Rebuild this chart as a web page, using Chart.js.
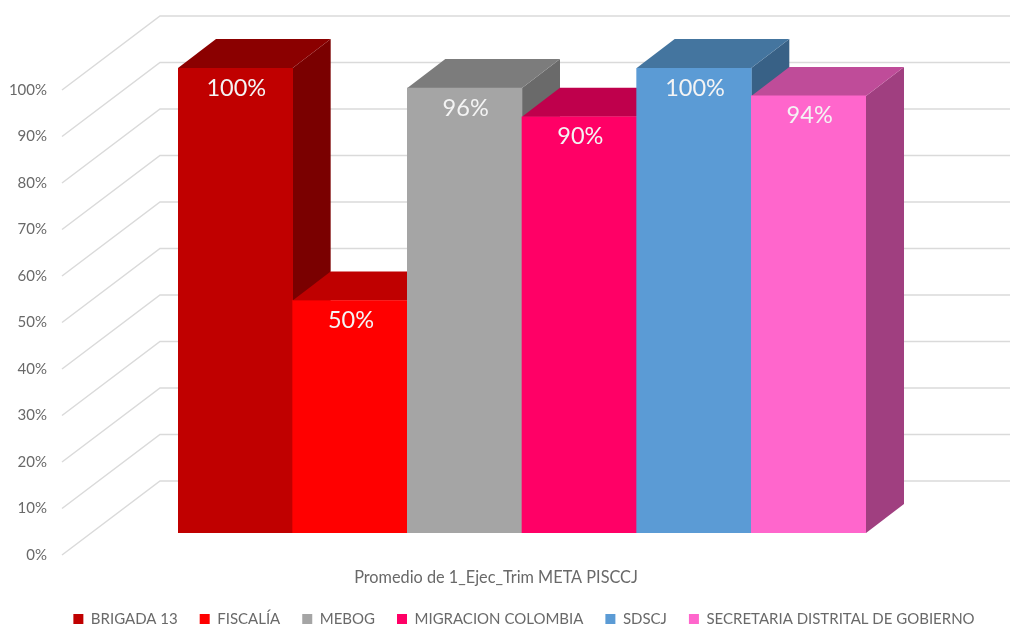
<!DOCTYPE html>
<html lang="es">
<head>
<meta charset="utf-8">
<title>Promedio de 1_Ejec_Trim META PISCCJ</title>
<script src="https://cdn.jsdelivr.net/npm/chart.js@4/dist/chart.umd.min.js"></script>
<style>
  html, body { margin: 0; background: #fff; }
  canvas { display: block; }
</style>
</head>
<body>
<canvas id="chart" width="1010" height="626"></canvas>
<script>
const categories = ["BRIGADA 13", "FISCALÍA", "MEBOG", "MIGRACION COLOMBIA", "SDSCJ", "SECRETARIA DISTRITAL DE GOBIERNO"];
const values = [100, 50, 95.7, 89.5, 100, 94];
const frontColors = ["#C00000", "#FF0000", "#A5A5A5", "#FF0066", "#5B9BD5", "#FF66CC"];
const topColors = ["#8B0000", "#BF0000", "#7C7C7C", "#BF004C", "#44759F", "#BF4C99"];
const sideColors = ["#7A0000", "#A00000", "#6A6A6A", "#A00040", "#386186", "#A03F80"];
const axisCaption = "Promedio de 1_Ejec_Trim META PISCCJ";

const FONT = "Lato, Carlito, sans-serif";
const TEXT_GREY = "#696969";

// Depth of the bars, and how far the side wall reaches either side of them
const BAR_DEPTH = { x: 38, y: 29 };
const WALL = { frontX: 62, frontDrop: 22, backX: 160, backRise: 52, rightX: 1010 };

function fillPoly(ctx, color, pts) {
  ctx.fillStyle = color;
  ctx.beginPath();
  pts.forEach((p, i) => (i ? ctx.lineTo(p[0], p[1]) : ctx.moveTo(p[0], p[1])));
  ctx.closePath();
  ctx.fill();
}

const threeD = {
  id: "threeD",
  // Tick labels get clipped to the axis box, and they sit left of it here
  afterLayout(chart) {
    chart.scales.y.left = 0;
  },
  // The library draws the front faces, so walls, sides and tops go underneath
  beforeDatasetsDraw(chart) {
    const { ctx, scales } = chart;
    ctx.save();
    ctx.strokeStyle = "#DADADA";
    ctx.lineWidth = 1.5;
    scales.y.ticks.forEach((tick) => {
      const y = scales.y.getPixelForValue(tick.value);
      ctx.beginPath();
      ctx.moveTo(WALL.frontX, y + WALL.frontDrop);
      ctx.lineTo(WALL.backX, y - WALL.backRise);
      ctx.lineTo(WALL.rightX, y - WALL.backRise);
      ctx.stroke();
    });
    chart.getDatasetMeta(0).data.forEach((bar, i) => {
      const right = bar.x + bar.width / 2;
      const left = bar.x - bar.width / 2;
      const dx = BAR_DEPTH.x;
      const dy = BAR_DEPTH.y;
      fillPoly(ctx, sideColors[i], [[right, bar.y], [right + dx, bar.y - dy], [right + dx, bar.base - dy], [right, bar.base]]);
      fillPoly(ctx, topColors[i], [[left, bar.y], [left + dx, bar.y - dy], [right + dx, bar.y - dy], [right, bar.y]]);
    });
    ctx.restore();
  },
  afterDatasetsDraw(chart) {
    const { ctx, scales } = chart;
    ctx.save();
    ctx.textAlign = "center";
    ctx.textBaseline = "middle";
    ctx.fillStyle = "#F4F4F4";
    ctx.font = "23.5px " + FONT;
    chart.getDatasetMeta(0).data.forEach((bar, i) => {
      ctx.fillText(Math.round(values[i]) + "%", bar.x + 1, bar.y + 20);
    });
    ctx.fillStyle = TEXT_GREY;
    ctx.font = "16.3px " + FONT;
    ctx.fillText(axisCaption, 496, scales.x.top + 45);
    ctx.restore();
  },
};

new Chart(document.getElementById("chart"), {
  type: "bar",
  data: {
    labels: categories,
    datasets: [
      {
        data: values,
        backgroundColor: frontColors,
        barPercentage: 1,
        categoryPercentage: 1,
      },
    ],
  },
  plugins: [threeD],
  options: {
    responsive: false,
    animation: false,
    // Negative bottom: the legend's own padding would leave it too high
    layout: { padding: { left: 38, top: 68, right: 0, bottom: -10.5 } },
    scales: {
      x: {
        grid: { display: false },
        border: { display: false },
        ticks: { display: false },
        afterFit: (scale) => {
          scale.height = 56.5;
        },
      },
      y: {
        min: 0,
        max: 100,
        grid: { display: false, drawTicks: false },
        border: { display: false },
        ticks: {
          stepSize: 10,
          padding: 131,
          labelOffset: 22,
          color: TEXT_GREY,
          font: { family: FONT, size: 15 },
          callback: (value) => value + "%",
        },
        afterFit: (scale) => {
          scale.width = 140;
          // Tick padding also counts as top and bottom margin, not wanted here
          scale.paddingTop = 0;
          scale.paddingBottom = 0;
        },
      },
      // Empty axis, only keeps the bars clear of the right side of the wall
      yRight: {
        position: "right",
        grid: { display: false },
        border: { display: false },
        ticks: { display: false },
        afterFit: (scale) => {
          scale.width = 144;
        },
      },
    },
    plugins: {
      tooltip: { enabled: false },
      legend: {
        position: "bottom",
        onClick: null,
        labels: {
          boxWidth: 10,
          boxHeight: 10,
          padding: 22,
          font: { family: FONT, size: 15 },
          generateLabels: () =>
            categories.map((text, i) => ({
              text,
              fillStyle: frontColors[i],
              strokeStyle: frontColors[i],
              fontColor: TEXT_GREY,
              lineWidth: 0,
              index: i,
            })),
        },
      },
    },
  },
});
</script>
</body>
</html>
